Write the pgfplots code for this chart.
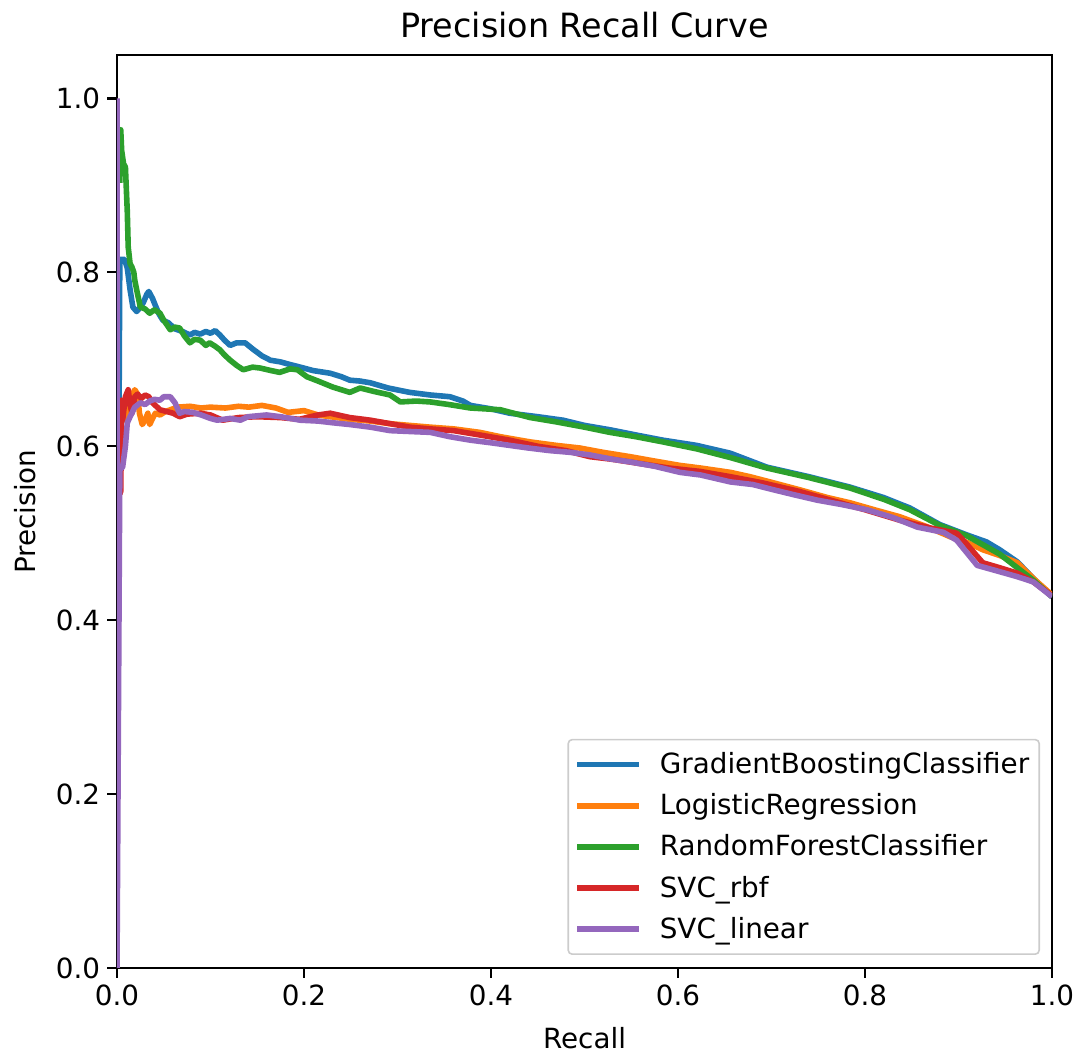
\documentclass[border=0pt]{standalone}
\usepackage{pgfplots}
\pgfplotsset{compat=1.18}
\usepackage{fontspec}
\setmainfont{DejaVu Sans}
\definecolor{c1}{HTML}{1F77B4}
\definecolor{c2}{HTML}{FF7F0E}
\definecolor{c3}{HTML}{2CA02C}
\definecolor{c4}{HTML}{D62728}
\definecolor{c5}{HTML}{9467BD}
\begin{document}
\begin{tikzpicture}
\begin{axis}[
  scale only axis, width=467.5pt, height=456.5pt,
  xmin=0, xmax=1, ymin=0, ymax=1.05,
  axis line style={line width=1.1pt},
  xtick={0,0.2,0.4,0.6,0.8,1.0}, ytick={0,0.2,0.4,0.6,0.8,1.0},
  tick align=outside, tick pos=left,
  major tick length=4.9pt,
  every tick/.style={black, line width=1.1pt},
  /pgf/number format/fixed, /pgf/number format/fixed zerofill, /pgf/number format/precision=1,
  /pgf/number format/assume math mode=true,
  tick label style={font=\fontsize{13.9pt}{16pt}\selectfont},
  label style={font=\fontsize{13.9pt}{16pt}\selectfont},
  title style={font=\fontsize{16.7pt}{19pt}\selectfont, yshift=-1pt},
  title={Precision Recall Curve},
  xlabel={Recall}, ylabel={Precision},
  xlabel style={yshift=-4pt}, ylabel style={yshift=3pt},
  legend style={at={(1,0)}, anchor=south east, xshift=-6pt, yshift=6.5pt,
    draw=black!20, rounded corners=2pt, line width=0.8pt,
    font=\fontsize{13.9pt}{16pt}\selectfont, row sep=4.5pt,
    inner xsep=3pt, inner ysep=4.5pt},
  legend cell align=left,
  legend image code/.code={\path (0pt,0pt); \draw[#1, line width=2.8pt] (0pt,0pt) -- (31pt,0pt); \path (38pt,0pt);},
  every axis plot/.append style={line width=2.8pt, line join=round},
]
\addplot[c1] coordinates {
(0.002,0.60)(0.003,0.815)(0.008,0.815)(0.011,0.805)(0.014,0.78)(0.017,0.76)(0.021,0.755)(0.025,0.76)(0.028,0.765)(0.032,0.775)(0.034,0.778)(0.038,0.77)(0.041,0.762)(0.045,0.752)(0.049,0.745)(0.055,0.742)(0.062,0.735)(0.070,0.732)(0.078,0.728)(0.083,0.731)(0.089,0.729)(0.095,0.732)(0.100,0.730)(0.105,0.733)(0.110,0.728)(0.115,0.722)(0.121,0.716)(0.128,0.719)(0.137,0.719)(0.145,0.712)(0.155,0.704)(0.164,0.699)(0.175,0.697)(0.185,0.694)(0.196,0.691)(0.210,0.687)(0.228,0.684)(0.240,0.680)(0.249,0.676)(0.260,0.675)(0.271,0.673)(0.290,0.667)(0.313,0.662)(0.335,0.659)(0.356,0.657)(0.370,0.652)(0.378,0.647)(0.400,0.643)(0.420,0.638)(0.450,0.634)(0.477,0.630)(0.500,0.624)(0.527,0.619)(0.555,0.613)(0.584,0.607)(0.620,0.601)(0.656,0.592)(0.695,0.576)(0.740,0.565)(0.784,0.553)(0.820,0.541)(0.848,0.529)(0.880,0.510)(0.909,0.498)(0.930,0.490)(0.944,0.481)(0.963,0.467)(0.980,0.448)(1.000,0.427)
};
\addlegendentry{GradientBoostingClassifier}
\addplot[c2] coordinates {
(0.003,0.62)(0.006,0.638)(0.009,0.63)(0.012,0.65)(0.016,0.658)(0.019,0.665)(0.022,0.66)(0.024,0.638)(0.027,0.625)(0.030,0.63)(0.033,0.638)(0.035,0.625)(0.038,0.632)(0.041,0.638)(0.046,0.636)(0.052,0.64)(0.057,0.642)(0.065,0.645)(0.078,0.646)(0.090,0.644)(0.100,0.645)(0.116,0.644)(0.130,0.646)(0.141,0.645)(0.155,0.647)(0.170,0.644)(0.183,0.639)(0.200,0.641)(0.215,0.636)(0.228,0.634)(0.249,0.631)(0.271,0.629)(0.292,0.626)(0.313,0.624)(0.335,0.622)(0.360,0.620)(0.388,0.616)(0.410,0.611)(0.442,0.605)(0.470,0.601)(0.495,0.598)(0.520,0.593)(0.549,0.588)(0.575,0.583)(0.602,0.578)(0.624,0.575)(0.656,0.570)(0.677,0.565)(0.702,0.558)(0.730,0.550)(0.760,0.541)(0.784,0.535)(0.810,0.527)(0.837,0.519)(0.865,0.508)(0.891,0.496)(0.910,0.489)(0.926,0.481)(0.945,0.474)(0.963,0.466)(0.980,0.448)(1.000,0.429)
};
\addlegendentry{LogisticRegression}
\addplot[c3] coordinates {
(0.003,0.903)(0.004,0.964)(0.005,0.94)(0.007,0.925)(0.009,0.921)(0.011,0.87)(0.012,0.829)(0.014,0.81)(0.016,0.806)(0.018,0.80)(0.019,0.791)(0.022,0.775)(0.025,0.760)(0.030,0.758)(0.035,0.753)(0.040,0.757)(0.046,0.753)(0.050,0.745)(0.057,0.734)(0.062,0.737)(0.067,0.736)(0.072,0.727)(0.078,0.719)(0.083,0.723)(0.089,0.722)(0.095,0.716)(0.099,0.719)(0.105,0.715)(0.110,0.711)(0.115,0.705)(0.121,0.699)(0.128,0.693)(0.135,0.688)(0.145,0.691)(0.153,0.690)(0.165,0.687)(0.174,0.685)(0.185,0.689)(0.193,0.688)(0.203,0.680)(0.215,0.675)(0.231,0.668)(0.249,0.662)(0.260,0.667)(0.275,0.663)(0.292,0.659)(0.303,0.651)(0.320,0.652)(0.335,0.651)(0.355,0.648)(0.378,0.644)(0.410,0.642)(0.442,0.633)(0.470,0.628)(0.500,0.622)(0.527,0.616)(0.555,0.611)(0.584,0.605)(0.620,0.597)(0.656,0.587)(0.695,0.575)(0.740,0.564)(0.784,0.552)(0.820,0.539)(0.848,0.527)(0.880,0.509)(0.909,0.497)(0.944,0.476)(0.980,0.446)(1.000,0.427)
};
\addlegendentry{RandomForestClassifier}
\addplot[c4] coordinates {
(0.003,0.545)(0.004,0.548)(0.005,0.653)(0.006,0.63)(0.009,0.657)(0.012,0.665)(0.014,0.648)(0.016,0.638)(0.019,0.657)(0.022,0.66)(0.026,0.655)(0.030,0.659)(0.034,0.657)(0.038,0.65)(0.046,0.642)(0.053,0.64)(0.060,0.638)(0.067,0.634)(0.075,0.637)(0.089,0.638)(0.100,0.636)(0.113,0.630)(0.130,0.633)(0.150,0.634)(0.175,0.633)(0.195,0.631)(0.215,0.636)(0.228,0.638)(0.249,0.633)(0.271,0.630)(0.292,0.626)(0.313,0.622)(0.335,0.620)(0.360,0.618)(0.388,0.613)(0.420,0.607)(0.450,0.600)(0.480,0.595)(0.506,0.588)(0.530,0.585)(0.560,0.580)(0.590,0.575)(0.624,0.571)(0.656,0.565)(0.690,0.558)(0.730,0.548)(0.760,0.539)(0.800,0.527)(0.837,0.515)(0.870,0.506)(0.898,0.500)(0.905,0.492)(0.926,0.466)(0.945,0.460)(0.963,0.454)(0.980,0.444)(1.000,0.428)
};
\addlegendentry{SVC\_rbf}
\addplot[c5] coordinates {
(0.000,1.0)(0.000,0.0)(0.003,0.573)(0.006,0.576)(0.009,0.60)(0.011,0.627)(0.014,0.634)(0.019,0.645)(0.025,0.650)(0.030,0.648)(0.035,0.652)(0.040,0.654)(0.046,0.653)(0.050,0.657)(0.057,0.657)(0.062,0.650)(0.067,0.638)(0.072,0.640)(0.081,0.639)(0.090,0.636)(0.100,0.632)(0.107,0.630)(0.121,0.632)(0.132,0.630)(0.140,0.634)(0.160,0.636)(0.175,0.634)(0.196,0.630)(0.215,0.629)(0.231,0.627)(0.249,0.625)(0.271,0.622)(0.292,0.618)(0.313,0.617)(0.335,0.616)(0.356,0.611)(0.378,0.607)(0.400,0.604)(0.420,0.601)(0.440,0.598)(0.463,0.595)(0.485,0.593)(0.506,0.590)(0.530,0.585)(0.549,0.582)(0.575,0.577)(0.602,0.570)(0.624,0.567)(0.656,0.559)(0.680,0.556)(0.702,0.550)(0.725,0.544)(0.749,0.538)(0.775,0.533)(0.802,0.527)(0.830,0.518)(0.856,0.507)(0.884,0.501)(0.898,0.492)(0.920,0.463)(0.940,0.457)(0.963,0.450)(0.980,0.444)(1.000,0.427)
};
\addlegendentry{SVC\_linear}
\end{axis}
\pgfresetboundingbox
\path (current axis.south west) ++(-58.5pt,-42.5pt) rectangle ++(540pt,526.5pt);
\end{tikzpicture}
\end{document}
